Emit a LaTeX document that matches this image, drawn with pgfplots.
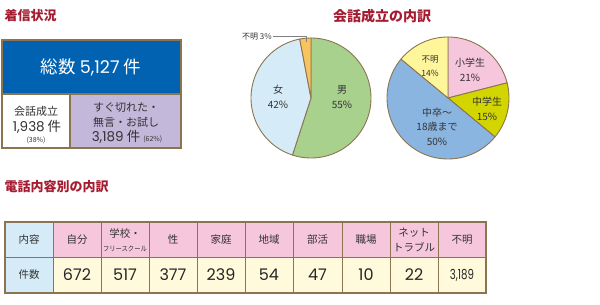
\documentclass[border=0pt]{standalone}
\usepackage{pgfplots}
\pgfplotsset{compat=1.18}
\usepackage{pgfplotstable}
\usepackage{fontspec}
\setmainfont{Noto Sans CJK JP}
\newfontfamily\num{Poppins}
\definecolor{titlered}{HTML}{A51C30}
\definecolor{boxblue}{HTML}{0062B1}
\definecolor{lav}{HTML}{C3B7DA}
\definecolor{brown}{HTML}{8C7450}
\definecolor{pinkh}{HTML}{F6C6DC}
\definecolor{lblue}{HTML}{D5ECF8}
\definecolor{cream}{HTML}{FFFADC}
\definecolor{pgreen}{HTML}{A9D18E}
\definecolor{porange}{HTML}{F8C460}
\definecolor{pyg}{HTML}{D2D500}
\definecolor{pblue}{HTML}{8AB5E1}
\definecolor{pyel}{HTML}{FFF59B}
\definecolor{txt}{HTML}{333333}
% pie 1 (percent)
\def\pA{55}\def\pB{42}\def\pC{3}
\pgfmathsetmacro\aA{90-3.6*\pA}
\pgfmathsetmacro\aB{\aA-3.6*\pB}
% pie 2 (percent)
\def\qA{21}\def\qB{15}\def\qC{50}\def\qD{14}
\pgfmathsetmacro\bA{90-3.6*\qA}
\pgfmathsetmacro\bB{\bA-3.6*\qB}
\pgfmathsetmacro\bC{\bB-3.6*\qC}
\newcommand\slice[6]{%
  \addplot[draw=brown, line width=0.9pt, fill=#1, line join=round, no markers,
    domain=#5:#6, samples=80, variable=\t]
    ({#2+#4*cos(\t)},{#3-#4*sin(\t)}) -- (axis cs:#2,#3) -- cycle;
}
\newcommand\cnt[2]{\node[text=black!85,font=\num\fontsize{16}{16}\selectfont] at (#1,275) {#2};}
\newcommand\hd[2]{\node[text=txt,font=\fontsize{10.5}{10.5}\selectfont] at (#1,239.5) {#2};}
\begin{document}
\begin{tikzpicture}
\useasboundingbox (0,0) rectangle (600pt,305pt);
\begin{axis}[width=600pt,height=305pt,scale only axis,
  xmin=0,xmax=600,ymin=0,ymax=305,y dir=reverse,hide axis,clip=false,
  anchor=south west, at={(0,0)}]
% titles
\node[anchor=west,text=titlered,font=\bfseries\fontsize{13}{13}\selectfont] at (1,16) {着信状況};
\node[text=titlered,font=\bfseries\fontsize{14}{14}\selectfont] at (382,16) {会話成立の内訳};
\node[anchor=west,text=titlered,font=\bfseries\fontsize{13}{13}\selectfont] at (1,187) {電話内容別の内訳};
% summary box
\fill[boxblue] (2,40) rectangle (181,94);
\fill[white] (2,94) rectangle (70,148);
\fill[lav] (70,94) rectangle (181,148);
\draw[brown,line width=1.4pt] (2,40) rectangle (181,148);
\draw[brown,line width=1.2pt] (2,94) -- (181,94) (70,94) -- (70,148);
\node[text=white,font=\fontsize{17.5}{17.5}\selectfont] at (91,67) {総数 {\num 5,127} 件};
\node[text=txt,font=\fontsize{11}{11}\selectfont] at (36,111) {会話成立};
\node[text=txt,font=\fontsize{13.5}{13.5}\selectfont] at (37,127) {{\num 1,938} 件};
\node[text=txt,font=\fontsize{7}{7}\selectfont] at (36,140.5) {(38\%)};
\node[text=txt,font=\fontsize{11}{11}\selectfont] at (126,107) {すぐ切れた・};
\node[text=txt,font=\fontsize{11}{11}\selectfont] at (126,122) {無言・お試し};
\node[text=txt,font=\fontsize{13.5}{13.5}\selectfont] at (127,137) {{\num 3,189} 件 {\fontsize{7}{7}\selectfont (62\%)}};
% pie 1
\slice{pgreen}{311}{98}{60}{\aA}{90}
\slice{lblue}{311}{98}{60}{\aB}{\aA}
\slice{porange}{311}{98}{60}{-270}{\aB}
\node[text=txt,font=\fontsize{10}{10}\selectfont] at (342,90) {男};
\node[text=txt,font=\fontsize{10}{10}\selectfont] at (342,105) {\pA\%};
\node[text=txt,font=\fontsize{10}{10}\selectfont] at (278,90) {女};
\node[text=txt,font=\fontsize{10}{10}\selectfont] at (278,105) {\pB\%};
\draw[gray,line width=0.6pt] (273,36) -- (306,36) -- (306,42);
\node[anchor=east,text=txt,font=\fontsize{8}{8}\selectfont,inner sep=1pt] at (273,37) {不明 \pC\%};
% pie 2
\slice{pinkh}{448}{98}{61}{\bA}{90}
\slice{pyg}{448}{98}{61}{\bB}{\bA}
\slice{pblue}{448}{98}{61}{\bC}{\bB}
\slice{pyel}{448}{98}{61}{-270}{\bC}
\node[text=txt,font=\fontsize{10}{10}\selectfont] at (470,63) {小学生};
\node[text=txt,font=\fontsize{10}{10}\selectfont] at (470,78) {\qA\%};
\node[text=txt,font=\fontsize{10}{10}\selectfont] at (487,102) {中学生};
\node[text=txt,font=\fontsize{10}{10}\selectfont] at (487,117) {\qB\%};
\node[text=txt,font=\fontsize{10}{10}\selectfont] at (437,113) {中卒～};
\node[text=txt,font=\fontsize{10}{10}\selectfont] at (437,127) {18歳まで};
\node[text=txt,font=\fontsize{10}{10}\selectfont] at (437,142) {\qC\%};
\node[text=txt,font=\fontsize{8.5}{8.5}\selectfont] at (430,59) {不明};
\node[text=txt,font=\fontsize{8.5}{8.5}\selectfont] at (430,73) {\qD\%};
% table
\fill[lblue] (5,222) rectangle (53,293);
\fill[pinkh] (53,222) rectangle (486,257);
\fill[cream] (53,257) rectangle (486,293);
\pgfplotsinvokeforeach{53,101,149,197,245,293,342,390,438}{\draw[brown,line width=0.9pt] (#1,222) -- (#1,293);}
\draw[brown,line width=0.9pt] (5,257) -- (486,257);
\draw[brown,line width=1.3pt] (5,222) rectangle (486,293);
\node[text=txt,font=\fontsize{10.5}{10.5}\selectfont] at (29,239.5) {内容};
\node[text=txt,font=\fontsize{10.5}{10.5}\selectfont] at (29,275) {件数};
\hd{77}{自分}
\node[text=txt,font=\fontsize{10.5}{10.5}\selectfont] at (125,233) {学校・};
\node[text=txt,font=\fontsize{7}{7}\selectfont] at (125,249) {\scalebox{0.9}[1]{フリースクール}};
\hd{173}{性}
\hd{221}{家庭}
\hd{269}{地域}
\hd{317.5}{部活}
\hd{366}{職場}
\node[text=txt,font=\fontsize{10.5}{10.5}\selectfont] at (414,233) {ネット};
\node[text=txt,font=\fontsize{10.5}{10.5}\selectfont] at (414,247) {トラブル};
\hd{462}{不明}
\cnt{77}{672}
\cnt{125}{517}
\cnt{173}{377}
\cnt{221}{239}
\cnt{269}{54}
\cnt{317.5}{47}
\cnt{366}{10}
\cnt{414}{22}
\node[text=black!85,font=\num\fontsize{12}{12}\selectfont] at (462,275) {\scalebox{0.85}[1.15]{3,189}};
\end{axis}
\end{tikzpicture}
\end{document}
